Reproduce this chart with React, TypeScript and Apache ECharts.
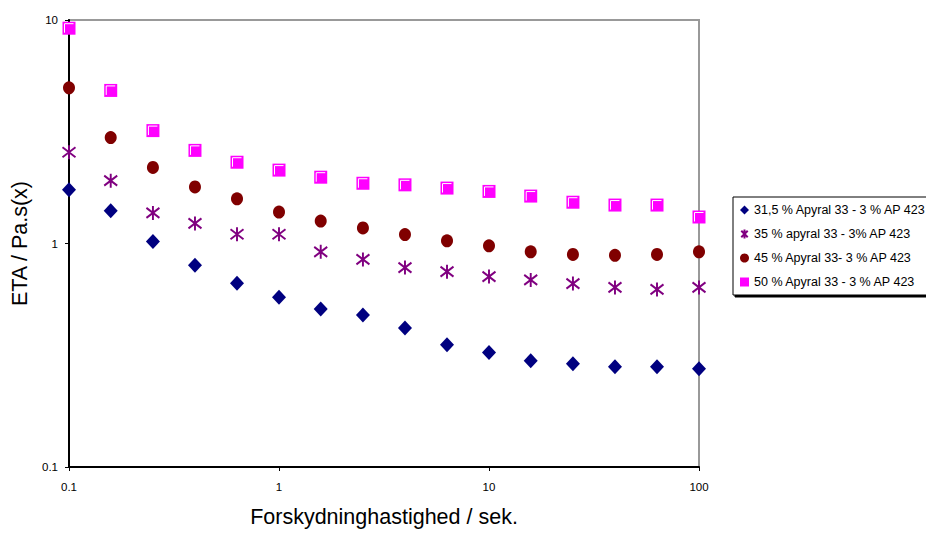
import React, { useEffect, useRef } from "react";
import * as echarts from "echarts";

const shearRates = [0.1, 0.158, 0.251, 0.398, 0.631, 1, 1.58, 2.51, 3.98, 6.31, 10, 15.8, 25.1, 39.8, 63.1, 100];

const seriesNames = [
  "31,5 % Apyral 33 - 3 % AP 423",
  "35 % apyral 33 - 3% AP 423",
  "45 % Apyral 33- 3 % AP 423",
  "50 % Apyral 33 - 3 % AP 423",
];

const eta315 = [1.74, 1.4, 1.02, 0.8, 0.664, 0.575, 0.509, 0.479, 0.419, 0.352, 0.325, 0.299, 0.29, 0.281, 0.281, 0.275];
const eta35 = [2.56, 1.91, 1.37, 1.23, 1.1, 1.1, 0.918, 0.849, 0.78, 0.748, 0.711, 0.687, 0.662, 0.636, 0.623, 0.636];
const eta45 = [4.97, 2.98, 2.19, 1.79, 1.585, 1.383, 1.26, 1.174, 1.096, 1.028, 0.977, 0.918, 0.894, 0.885, 0.894, 0.918];
const eta50 = [9.19, 4.84, 3.2, 2.61, 2.31, 2.13, 1.98, 1.86, 1.83, 1.77, 1.71, 1.63, 1.53, 1.486, 1.486, 1.314];

const xTicks = ["0.1", "1", "10", "100"];
const yTicks = ["0.1", "1", "10"];

const FONT = "'Liberation Sans', Arial, sans-serif";
const STAR = "path://M1,2L11,12M11,2L1,12M6,0L6,14";
const HIGHLIGHT = "path://M2,12L2,2L12,2";

const pairs = (ys: number[]) => shearRates.map((x, i) => [x, ys[i]]);

export default function App() {
  const ref = useRef<HTMLDivElement>(null);
  useEffect(() => {
    if (!ref.current) return;
    const chart = echarts.init(ref.current, undefined, { renderer: "svg" });
    const fmt = (v: number) => String(Number(v.toPrecision(6)));
    chart.setOption({
      animation: false,
      backgroundColor: "#ffffff",
      textStyle: { fontFamily: FONT },
      grid: {
        left: 69,
        right: 227,
        top: 20,
        bottom: 63,
        show: true,
        borderColor: "#999999",
        borderWidth: 2,
      },
      xAxis: {
        type: "log",
        logBase: 10,
        min: 0.1,
        max: 100,
        name: "Forskydninghastighed / sek.",
        nameLocation: "middle",
        nameGap: 39,
        nameTextStyle: { fontSize: 21.5, color: "#000", fontFamily: FONT },
        axisLine: { show: true, lineStyle: { color: "#000", width: 2 } },
        axisTick: { show: true, length: 4, lineStyle: { color: "#000", width: 1 } },
        axisLabel: {
          fontSize: 11.5,
          color: "#000",
          margin: 14,
          fontFamily: FONT,
          formatter: (v: number) => {
            const s = fmt(v);
            return xTicks.includes(s) ? s : "";
          },
        },
        splitLine: { show: false },
        minorTick: { show: false },
      },
      yAxis: {
        type: "log",
        logBase: 10,
        min: 0.1,
        max: 10,
        name: "ETA / Pa.s(x)",
        nameLocation: "middle",
        nameGap: 29,
        nameRotate: 90,
        nameTextStyle: { fontSize: 21.5, color: "#000", fontFamily: FONT },
        axisLine: { show: true, lineStyle: { color: "#000", width: 2 } },
        axisTick: { show: true, length: 4, lineStyle: { color: "#000", width: 1 } },
        axisLabel: {
          fontSize: 11.5,
          color: "#000",
          margin: 11,
          fontFamily: FONT,
          formatter: (v: number) => {
            const s = fmt(v);
            return yTicks.includes(s) ? s : "";
          },
        },
        splitLine: { show: false },
        minorTick: { show: false },
      },
      legend: {
        orient: "vertical",
        left: 733,
        top: 197,
        padding: [6, 4, 6, 7],
        itemWidth: 9,
        itemHeight: 9,
        itemGap: 10,
        backgroundColor: "#fff",
        borderColor: "#000",
        borderWidth: 1,
        shadowColor: "#000",
        shadowBlur: 0,
        shadowOffsetX: 2,
        shadowOffsetY: 2,
        textStyle: { fontSize: 12.5, color: "#000", fontFamily: FONT, lineHeight: 14 },
        data: [
          { name: seriesNames[0], icon: "diamond" },
          { name: seriesNames[1], icon: STAR },
          { name: seriesNames[2], icon: "circle" },
          { name: seriesNames[3], icon: "rect" },
        ],
      },
      series: [
        {
          name: seriesNames[0],
          type: "scatter",
          symbol: "diamond",
          symbolSize: [14, 15],
          itemStyle: { color: "#000080", opacity: 1 },
          data: pairs(eta315),
        },
        {
          name: seriesNames[1],
          type: "scatter",
          symbol: STAR,
          symbolSize: [13, 14],
          itemStyle: { color: "#800080", borderColor: "#800080", borderWidth: 2, opacity: 1 },
          data: pairs(eta35),
        },
        {
          name: seriesNames[2],
          type: "scatter",
          symbol: "circle",
          symbolSize: [12, 13],
          itemStyle: { color: "#800000", opacity: 1 },
          data: pairs(eta45),
        },
        {
          name: seriesNames[3],
          type: "scatter",
          symbol: "rect",
          symbolSize: 13,
          itemStyle: { color: "#ff00ff", opacity: 1 },
          data: pairs(eta50),
        },
        {
          name: "highlight50",
          type: "scatter",
          symbol: HIGHLIGHT,
          symbolSize: 9,
          silent: true,
          itemStyle: { color: "none", borderColor: "#ffffff", borderWidth: 1, opacity: 1 },
          data: pairs(eta50),
        },
      ],
    });
    return () => chart.dispose();
  }, []);
  return (
    <div
      ref={ref}
      style={{ position: "fixed", left: 0, top: 0, width: 926, height: 533 }}
    />
  );
}
